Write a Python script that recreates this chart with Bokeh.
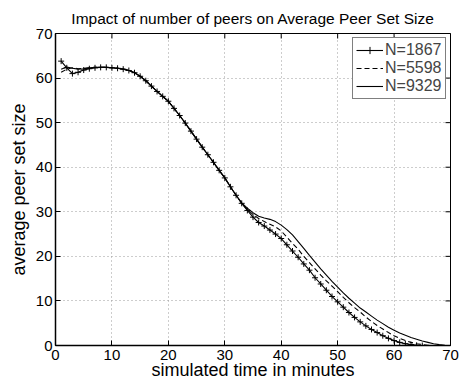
import math

from bokeh.plotting import figure
from bokeh.models import Range1d, FixedTicker, Legend, LegendItem
from bokeh.embed import file_html
from bokeh.resources import INLINE

# Average peer set size over simulated time, for three network sizes
minutes = list(range(1, 71))

n1867 = [63.8, 62.3, 61.0, 61.3, 61.8, 62.1, 62.3, 62.4, 62.4, 62.3,
         62.2, 62.0, 61.7, 61.2, 60.4, 59.4, 58.2, 57.0, 55.9, 54.8,
         53.2, 51.6, 49.9, 48.1, 46.3, 44.5, 42.8, 41.1, 39.3, 37.6,
         35.6, 33.7, 31.9, 30.3, 28.8, 27.6, 26.8, 25.9, 25.0, 24.0,
         22.6, 21.2, 19.8, 18.3, 16.9, 15.2, 13.8, 12.4, 11.0, 9.8,
         8.6, 7.4, 6.3, 5.3, 4.4, 3.6, 2.9, 2.2, 1.6, 1.1,
         0.7, 0.4, 0.2, 0.05, 0.0]

n5598 = [61.3, 62.0, 62.3, 62.1, 62.2, 62.3, 62.4, 62.4, 62.4, 62.3,
         62.2, 62.0, 61.7, 61.2, 60.4, 59.4, 58.2, 57.0, 55.9, 54.8,
         53.2, 51.6, 49.9, 48.1, 46.3, 44.5, 42.8, 41.1, 39.3, 37.6,
         35.6, 33.7, 31.9, 30.5, 29.4, 28.5, 27.8, 27.2, 26.6, 25.7,
         24.3, 22.9, 21.6, 20.0, 18.6, 17.2, 15.8, 14.5, 13.3, 12.1,
         10.8, 9.6, 8.5, 7.5, 6.4, 5.4, 4.5, 3.7, 2.9, 2.2,
         1.6, 1.1, 0.7, 0.4, 0.2, 0.05, 0.0]

n9329 = [62.0, 62.5, 62.2, 62.0, 62.1, 62.3, 62.4, 62.4, 62.4, 62.3,
         62.2, 62.0, 61.7, 61.2, 60.4, 59.4, 58.2, 57.0, 55.9, 54.8,
         53.2, 51.6, 49.9, 48.1, 46.3, 44.5, 42.8, 41.1, 39.3, 37.6,
         35.6, 33.7, 32.0, 30.8, 29.8, 29.0, 28.6, 28.3, 27.8, 27.0,
         26.0, 24.8, 23.3, 21.8, 20.2, 18.7, 17.2, 15.8, 14.4, 13.1,
         11.8, 10.6, 9.5, 8.4, 7.5, 6.6, 5.7, 4.9, 4.1, 3.4,
         2.8, 2.3, 1.8, 1.4, 1.0, 0.7, 0.4, 0.2, 0.05, 0.0]

series_labels = ["N=1867", "N=5598", "N=9329"]
tick_values = [0, 10, 20, 30, 40, 50, 60, 70]

FONT = "Liberation Sans"

x_rng = Range1d(0, 70)
y_rng = Range1d(0, 70)

p = figure(width=461, height=383, output_backend="svg", toolbar_location=None,
           x_range=x_rng, y_range=y_rng,
           min_border_left=55, min_border_right=11, min_border_top=33,
           min_border_bottom=38, background_fill_color="white",
           border_fill_color="white", outline_line_color="black",
           outline_line_width=1)

p.title.text = "Impact of number of peers on Average Peer Set Size"
p.title.align = "center"
p.title.vertical_align = "middle"
p.title.text_font = FONT
p.title.text_font_size = "15.5px"
p.title.text_font_style = "normal"
p.title.text_color = "black"
p.title.offset = 0
p.title.standoff = 12

for ax in (p.xaxis[0], p.yaxis[0]):
    ax.ticker = FixedTicker(ticks=tick_values)
    ax.major_tick_in = 5
    ax.major_tick_out = 0
    ax.minor_tick_in = 0
    ax.minor_tick_out = 0
    ax.axis_line_color = "black"
    ax.axis_line_width = 1.5
    ax.major_tick_line_color = "black"
    ax.major_label_text_font = FONT
    ax.major_label_text_font_size = "15px"
    ax.major_label_text_color = "black"
    ax.axis_label_text_font = FONT
    ax.axis_label_text_font_size = "18px"
    ax.axis_label_text_font_style = "normal"
    ax.axis_label_text_color = "black"

p.xaxis.axis_label = "simulated time in minutes"
p.yaxis.axis_label = "average peer set size"
p.xaxis.major_label_standoff = 4
p.yaxis.major_label_standoff = 3
p.xaxis.axis_label_standoff = -3
p.yaxis.axis_label_standoff = 4

# Inward tick marks along the top and right edges of the frame
# (vertical / horizontal dashes centred on the edge, clipped to the frame)
p.scatter(tick_values, [y_rng.end] * len(tick_values), marker="dash",
          angle=math.pi / 2, size=10, line_color="black", line_width=1)
p.scatter([x_rng.end] * len(tick_values), tick_values, marker="dash",
          size=10, line_color="black", line_width=1)

p.grid.ticker = FixedTicker(ticks=tick_values)
p.grid.grid_line_color = "#9a9a9a"
p.grid.grid_line_dash = "1 3"
p.grid.grid_line_width = 1

r1 = p.line(minutes[:len(n1867)], n1867, line_color="black", line_width=1.1)
m1 = p.scatter(minutes[:len(n1867)], n1867, marker="cross", size=6,
               line_color="black", line_width=1)
r2 = p.line(minutes[:len(n5598)], n5598, line_color="black", line_width=1.1,
            line_dash="5 3")
r3 = p.line(minutes[:len(n9329)], n9329, line_color="black", line_width=1.1)

legend = Legend(items=[LegendItem(label=series_labels[0], renderers=[r1, m1]),
                       LegendItem(label=series_labels[1], renderers=[r2]),
                       LegendItem(label=series_labels[2], renderers=[r3])],
                location=(297, 246), padding=3, spacing=0, margin=0,
                label_text_font=FONT, label_text_font_size="16px",
                label_height=18, glyph_height=18, glyph_width=27,
                label_standoff=2, border_line_color="black",
                border_line_width=1, background_fill_color="white",
                background_fill_alpha=1.0)
p.add_layout(legend, "center")

open("out.html", "w").write(file_html(p, INLINE))
